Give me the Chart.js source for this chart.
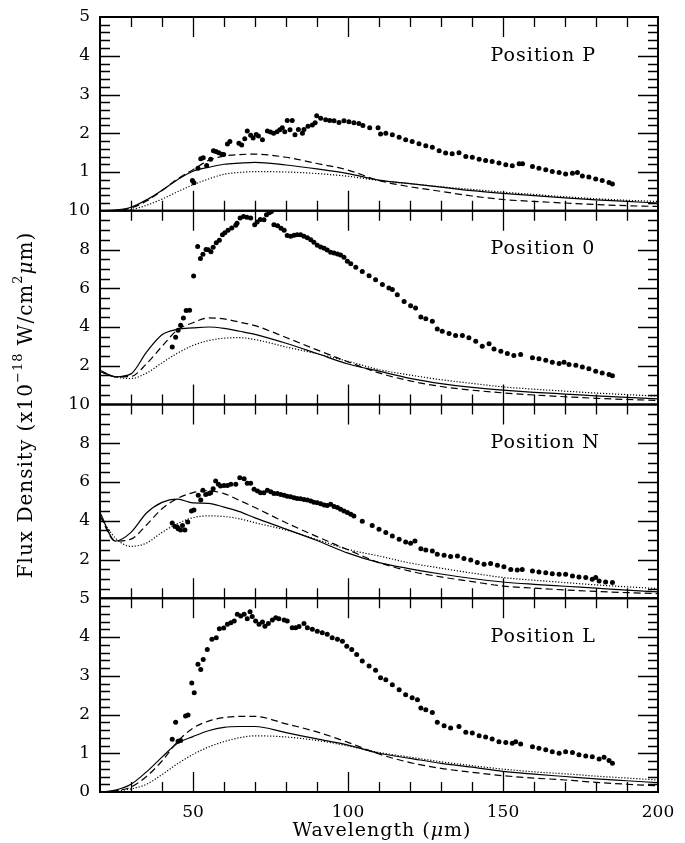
<!DOCTYPE html>
<html>
<head>
<meta charset="utf-8">
<script src="https://cdn.jsdelivr.net/npm/chart.js@4.4.1/dist/chart.umd.min.js"></script>
<style>
  html, body { margin: 0; padding: 0; background: #fff; }
  #wrap { width: 685px; height: 843px; }
</style>
</head>
<body>
<div id="wrap"><canvas id="fluxChart"></canvas></div>
<script>
// wavelength grid of the model curves (um)
const modelWave = [20, 25, 30, 35, 40, 45, 50, 55, 60, 65, 70, 80, 90, 100, 110, 120, 130, 140, 150, 160, 170, 180, 190, 200];

// --- Position P ---
const pSolid  = [0.00, 0.02, 0.09, 0.28, 0.53, 0.80, 1.02, 1.12, 1.20, 1.23, 1.25, 1.18, 1.08, 0.96, 0.79, 0.70, 0.61, 0.52, 0.45, 0.39, 0.33, 0.28, 0.24, 0.20];
const pDashed = [0.00, 0.01, 0.07, 0.25, 0.52, 0.82, 1.06, 1.30, 1.41, 1.45, 1.46, 1.38, 1.22, 1.05, 0.78, 0.62, 0.50, 0.38, 0.29, 0.24, 0.20, 0.16, 0.13, 0.11];
const pDotted = [0.00, 0.00, 0.03, 0.14, 0.30, 0.49, 0.67, 0.82, 0.94, 0.99, 1.01, 1.00, 0.96, 0.89, 0.78, 0.70, 0.62, 0.55, 0.48, 0.42, 0.36, 0.31, 0.27, 0.24];
const pObsX = [49.8, 50.3, 51.6, 52.5, 53.3, 54.4, 55.7, 56.6, 57.4, 58.3, 59.3, 59.9, 61.1, 61.9, 64.8, 65.7, 66.7, 67.5, 68.6, 69.4,
  70.4, 71.1, 72.4, 74.0, 75.0, 76.0, 77.1, 78.0, 78.8, 79.6, 80.4, 81.3, 82.0, 82.9, 84.0, 85.3, 85.8, 87.1, 88.5, 89.4,
  89.9, 91.2, 92.8, 94.1, 95.5, 97.1, 98.7, 100.3, 101.9, 103.5, 104.8, 107.0, 109.7, 110.5, 112.2, 114.3, 116.5, 118.6, 120.7, 122.9,
  125.1, 127.2, 129.4, 131.5, 133.6, 135.8, 138.0, 140.1, 142.3, 144.4, 146.5, 148.7, 150.9, 153.0, 155.2, 156.3,
  159.5, 161.6, 163.8, 165.9, 168.1, 170.2, 172.4, 174.0, 175.6, 177.7, 179.9, 182.0, 184.2, 185.3];
const pObsY = [0.78, 0.72, 1.10, 1.34, 1.37, 1.17, 1.33, 1.55, 1.53, 1.50, 1.46, 1.45, 1.72, 1.79, 1.74, 1.70, 1.86, 2.06, 1.95, 1.88,
  1.97, 1.93, 1.83, 2.06, 2.03, 2.00, 2.04, 2.09, 2.14, 2.04, 2.33, 2.09, 2.33, 1.96, 2.10, 2.00, 2.10, 2.18, 2.21, 2.27,
  2.45, 2.39, 2.35, 2.33, 2.32, 2.28, 2.32, 2.30, 2.27, 2.25, 2.20, 2.14, 2.14, 1.98, 2.00, 1.96, 1.90, 1.83, 1.79, 1.73,
  1.68, 1.64, 1.55, 1.49, 1.47, 1.50, 1.40, 1.38, 1.33, 1.30, 1.27, 1.23, 1.19, 1.16, 1.21, 1.21,
  1.14, 1.10, 1.06, 1.01, 0.99, 0.95, 0.97, 0.99, 0.90, 0.87, 0.82, 0.78, 0.73, 0.69];

// --- Position 0 ---
const oSolid  = [1.77, 1.43, 1.58, 2.70, 3.60, 3.88, 3.95, 4.00, 3.93, 3.78, 3.62, 3.16, 2.63, 2.09, 1.72, 1.35, 1.08, 0.88, 0.74, 0.63, 0.54, 0.45, 0.37, 0.29];
const oDashed = [1.70, 1.43, 1.45, 2.10, 3.00, 3.85, 4.22, 4.47, 4.42, 4.25, 4.07, 3.46, 2.82, 2.20, 1.63, 1.22, 0.93, 0.74, 0.60, 0.49, 0.40, 0.32, 0.26, 0.21];
const oDotted = [1.72, 1.43, 1.34, 1.62, 2.15, 2.65, 3.05, 3.30, 3.42, 3.45, 3.35, 2.97, 2.62, 2.23, 1.80, 1.52, 1.28, 1.09, 0.91, 0.79, 0.69, 0.59, 0.51, 0.43];
const oObsX = [43.3, 44.4, 45.2, 46.0, 46.9, 47.8, 48.9, 50.2, 51.5, 52.4, 53.2, 54.2, 54.9, 55.8, 56.5, 57.5, 58.5, 59.5, 60.3, 61.3,
  62.5, 63.8, 64.2, 65.2, 66.3, 67.4, 68.6, 69.9, 70.7, 71.7, 72.9, 73.7, 74.6, 75.3, 76.1, 77.3, 78.4, 79.4, 80.4, 81.5,
  82.6, 83.6, 84.7, 85.8, 86.9, 88.0, 89.0, 90.1, 91.2, 92.3, 93.3, 94.4, 95.5, 96.6, 97.6, 98.7, 99.8, 100.9, 102.5, 104.6,
  106.8, 108.9, 111.1, 113.2, 114.3, 115.9, 118.1, 120.2, 121.8, 123.5, 125.1, 127.2, 128.8, 130.4, 132.6, 134.7, 136.9, 139.0, 141.2, 143.3,
  145.5, 147.1, 149.3, 151.4, 153.5, 155.7, 159.5, 161.6, 163.8, 165.9, 168.1, 169.7, 171.3, 173.5, 175.6, 177.7, 179.9, 182.0, 184.2, 185.3];
const oObsY = [2.97, 3.47, 3.83, 4.09, 4.47, 4.85, 4.86, 6.63, 8.16, 7.53, 7.75, 8.00, 7.99, 7.89, 8.11, 8.35, 8.48, 8.76, 8.86, 8.99,
  9.11, 9.25, 9.36, 9.62, 9.70, 9.66, 9.63, 9.28, 9.42, 9.55, 9.54, 9.80, 9.90, 9.96, 9.28, 9.22, 9.10, 9.00, 8.72, 8.68,
  8.73, 8.76, 8.76, 8.68, 8.61, 8.50, 8.38, 8.22, 8.13, 8.06, 7.97, 7.86, 7.82, 7.77, 7.71, 7.60, 7.39, 7.27, 7.09, 6.87,
  6.65, 6.44, 6.19, 6.01, 5.93, 5.67, 5.32, 5.10, 4.98, 4.52, 4.42, 4.30, 3.90, 3.78, 3.66, 3.56, 3.56, 3.44, 3.26, 3.01,
  3.14, 2.87, 2.75, 2.63, 2.53, 2.58, 2.41, 2.36, 2.28, 2.18, 2.11, 2.18, 2.06, 2.03, 1.94, 1.84, 1.72, 1.63, 1.55, 1.49];

// --- Position N ---
const nSolid  = [4.42, 2.95, 3.40, 4.40, 4.95, 5.12, 4.92, 4.90, 4.70, 4.47, 4.15, 3.57, 2.98, 2.33, 1.84, 1.52, 1.25, 1.02, 0.84, 0.72, 0.62, 0.52, 0.42, 0.33];
const nDashed = [4.25, 2.95, 3.05, 3.78, 4.62, 5.15, 5.45, 5.55, 5.40, 5.05, 4.68, 3.90, 3.18, 2.50, 1.84, 1.40, 1.10, 0.86, 0.63, 0.52, 0.43, 0.35, 0.29, 0.24];
const nDotted = [4.20, 3.10, 2.68, 2.85, 3.40, 3.85, 4.16, 4.25, 4.22, 4.10, 3.90, 3.52, 3.03, 2.52, 2.18, 1.82, 1.55, 1.30, 1.07, 0.93, 0.81, 0.69, 0.59, 0.50];
const nObsX = [43.3, 44.2, 44.9, 45.2, 46.0, 46.6, 47.4, 48.3, 49.5, 50.3, 51.7, 52.5, 53.2, 54.1, 55.2, 55.7, 56.5, 57.3, 58.2, 58.9,
  60.0, 61.1, 62.2, 63.8, 65.1, 66.5, 67.5, 68.6, 69.7, 70.8, 71.8, 72.9, 74.0, 75.1, 76.1, 77.2, 78.3, 79.4, 80.4, 81.5,
  82.6, 83.6, 84.7, 85.8, 86.9, 88.0, 89.0, 90.1, 91.2, 92.3, 93.3, 94.4, 95.5, 96.6, 97.6, 98.7, 99.8, 100.9, 101.9, 104.6,
  107.8, 110.0, 112.2, 114.3, 116.5, 118.6, 120.2, 121.6, 123.5, 125.1, 127.2, 128.8, 131.0, 133.1, 135.3, 137.4, 139.6, 141.7, 143.9, 146.0,
  148.2, 150.3, 152.5, 154.6, 156.2, 159.5, 161.6, 163.8, 165.9, 168.1, 170.2, 172.4, 174.5, 176.7, 178.8, 179.9, 181.0, 183.1, 185.3];
const nObsY = [3.88, 3.70, 3.68, 3.59, 3.52, 3.76, 3.52, 3.93, 4.50, 4.55, 5.31, 5.07, 5.58, 5.36, 5.41, 5.45, 5.65, 6.05, 5.88, 5.79,
  5.82, 5.82, 5.88, 5.88, 6.22, 6.17, 5.93, 5.93, 5.62, 5.53, 5.45, 5.45, 5.58, 5.50, 5.41, 5.41, 5.36, 5.31, 5.27, 5.24,
  5.19, 5.15, 5.14, 5.10, 5.07, 5.02, 4.96, 4.93, 4.88, 4.81, 4.79, 4.85, 4.73, 4.68, 4.59, 4.50, 4.42, 4.33, 4.24, 3.98,
  3.76, 3.56, 3.39, 3.21, 3.04, 2.90, 2.84, 2.95, 2.56, 2.49, 2.44, 2.27, 2.22, 2.15, 2.18, 2.05, 1.97, 1.84, 1.75, 1.80,
  1.70, 1.63, 1.49, 1.46, 1.49, 1.41, 1.36, 1.32, 1.27, 1.24, 1.24, 1.15, 1.10, 1.07, 0.98, 1.07, 0.89, 0.84, 0.81];

// --- Position L ---
const lSolid  = [0.00, 0.05, 0.20, 0.52, 0.90, 1.26, 1.43, 1.58, 1.67, 1.69, 1.69, 1.53, 1.37, 1.21, 1.00, 0.87, 0.74, 0.64, 0.53, 0.46, 0.40, 0.34, 0.29, 0.24];
const lDashed = [0.00, 0.03, 0.13, 0.40, 0.80, 1.30, 1.65, 1.83, 1.92, 1.95, 1.95, 1.76, 1.55, 1.28, 0.98, 0.76, 0.61, 0.51, 0.42, 0.36, 0.31, 0.25, 0.20, 0.16];
const lDotted = [0.00, 0.02, 0.08, 0.20, 0.45, 0.73, 0.97, 1.16, 1.30, 1.40, 1.45, 1.42, 1.33, 1.19, 1.02, 0.90, 0.78, 0.68, 0.59, 0.52, 0.47, 0.41, 0.36, 0.31];
const lObsX = [43.3, 44.4, 45.2, 46.0, 47.6, 48.4, 49.6, 50.4, 51.6, 52.5, 53.3, 54.6, 56.1, 57.5, 58.5, 59.9, 61.1, 62.2, 63.3, 64.3,
  65.4, 66.5, 67.5, 68.4, 69.1, 70.2, 71.3, 72.4, 73.2, 74.3, 75.6, 76.7, 77.7, 79.4, 80.4, 82.0, 83.1, 84.2, 85.8, 86.9,
  88.5, 90.1, 91.7, 93.3, 94.9, 96.6, 98.2, 99.6, 101.2, 102.8, 104.6, 106.8, 108.9, 110.5, 112.2, 114.3, 116.5, 118.6, 120.7, 122.4,
  123.5, 125.1, 127.2, 128.8, 131.0, 133.1, 135.8, 138.0, 140.1, 142.3, 144.4, 146.5, 148.7, 150.9, 153.0, 154.1, 155.7,
  159.5, 161.6, 163.8, 165.9, 168.1, 170.2, 172.4, 174.5, 176.7, 178.8, 181.0, 182.6, 184.2, 185.3];
const lObsY = [1.36, 1.80, 1.31, 1.33, 1.96, 1.99, 2.81, 2.56, 3.30, 3.16, 3.42, 3.68, 3.94, 3.98, 4.21, 4.23, 4.33, 4.37, 4.41, 4.59,
  4.54, 4.59, 4.47, 4.65, 4.53, 4.41, 4.33, 4.39, 4.28, 4.35, 4.44, 4.50, 4.47, 4.44, 4.41, 4.24, 4.24, 4.27, 4.35, 4.24,
  4.20, 4.15, 4.11, 4.07, 3.98, 3.94, 3.89, 3.76, 3.68, 3.55, 3.38, 3.25, 3.14, 2.95, 2.90, 2.77, 2.64, 2.51, 2.43, 2.38,
  2.17, 2.12, 2.05, 1.80, 1.71, 1.65, 1.69, 1.54, 1.52, 1.45, 1.42, 1.37, 1.30, 1.28, 1.26, 1.30, 1.24,
  1.17, 1.13, 1.09, 1.04, 1.00, 1.04, 1.02, 0.96, 0.93, 0.91, 0.85, 0.90, 0.81, 0.74];

const xTickValues = [50, 100, 150, 200];

const FONT = '"DejaVu Serif", serif';

const pts = (xs, ys) => xs.map((x, i) => ({ x: x, y: ys[i] }));

// panels, top to bottom
const panels = [
  { id: 'yP', max: 5, major: 1, minor: 0.2, label: 'Position P', labelY: 4, obsX: pObsX, obsY: pObsY, solid: pSolid, dashed: pDashed, dotted: pDotted },
  { id: 'yO', max: 10, major: 2, minor: 0.5, label: 'Position 0', labelY: 8, obsX: oObsX, obsY: oObsY, solid: oSolid, dashed: oDashed, dotted: oDotted },
  { id: 'yN', max: 10, major: 2, minor: 0.5, label: 'Position N', labelY: 8, obsX: nObsX, obsY: nObsY, solid: nSolid, dashed: nDashed, dotted: nDotted },
  { id: 'yL', max: 5, major: 1, minor: 0.2, label: 'Position L', labelY: 4, obsX: lObsX, obsY: lObsY, solid: lSolid, dashed: lDashed, dotted: lDotted, showZero: true }
];

const datasets = [];
const scales = {
  x: {
    type: 'linear', min: 20, max: 200,
    grid: { display: false, drawTicks: false }, border: { display: false },
    ticks: {
      stepSize: 10, autoSkip: false, maxRotation: 0, padding: 10,
      color: '#000', font: { family: FONT, size: 17 },
      callback: (v) => xTickValues.includes(v) ? String(v) : ''
    },
    afterFit: (s) => { s.height = 51; }
  }
};

// stacked y axes: the last one defined ends up on top, so go bottom-up
panels.slice().reverse().forEach((p) => {
  scales[p.id] = {
    type: 'linear', position: 'left', stack: 'flux', stackWeight: 1,
    min: 0, max: p.max,
    grid: { display: false, drawTicks: false }, border: { display: false },
    ticks: {
      stepSize: p.major, autoSkip: false, padding: 10,
      color: '#000', font: { family: FONT, size: 17 },
      callback: (v) => (v === 0 && !p.showZero) ? '' : String(v)
    },
    afterFit: (s) => { s.width = 100; s.paddingTop = 0; s.paddingBottom = 0; }
  };
});

panels.forEach((p) => {
  const line = (data, dash) => ({
    data: pts(modelWave, data), yAxisID: p.id, xAxisID: 'x',
    showLine: true, pointRadius: 0, borderColor: '#000', borderWidth: 1.2,
    borderDash: dash, cubicInterpolationMode: 'monotone', fill: false
  });
  datasets.push({
    data: pts(p.obsX, p.obsY), yAxisID: p.id, xAxisID: 'x',
    showLine: false, pointRadius: 2.5, pointBorderWidth: 0,
    pointBackgroundColor: '#000', pointBorderColor: '#000'
  });
  datasets.push(line(p.solid, []));
  datasets.push(line(p.dashed, [7, 4]));
  datasets.push(line(p.dotted, [1.2, 1.8]));
});

// frames, inward ticks, panel names and axis titles
const framePlugin = {
  id: 'framePlugin',
  afterDatasetsDraw(chart) {
    const ctx = chart.ctx;
    const xs = chart.scales.x;
    const area = chart.chartArea;
    ctx.save();
    ctx.strokeStyle = '#000';
    ctx.fillStyle = '#000';
    ctx.lineWidth = 1.3;
    panels.forEach((p) => {
      const ys = chart.scales[p.id];
      const top = ys.top, bot = ys.bottom;
      ctx.beginPath();
      for (let v = 30; v < 200; v += 10) {
        const px = Math.round(xs.getPixelForValue(v)) + 0.5;
        const len = v % 50 === 0 ? 20 : 10;
        ctx.moveTo(px, top); ctx.lineTo(px, top + len);
        ctx.moveTo(px, bot); ctx.lineTo(px, bot - len);
      }
      const n = Math.round(p.max / p.minor);
      for (let i = 1; i < n; i++) {
        const v = i * p.minor;
        const r = v / p.major;
        const len = Math.abs(r - Math.round(r)) < 1e-6 ? 20 : 10;
        const py = Math.round(ys.getPixelForValue(v)) + 0.5;
        ctx.moveTo(area.left, py); ctx.lineTo(area.left + len, py);
        ctx.moveTo(area.right, py); ctx.lineTo(area.right - len, py);
      }
      ctx.stroke();
      ctx.font = '19px ' + FONT;
      ctx.letterSpacing = '1px';
      ctx.textBaseline = 'middle';
      ctx.textAlign = 'left';
      ctx.fillText(p.label, xs.getPixelForValue(146), ys.getPixelForValue(p.labelY));
    });
    ctx.lineWidth = 2;
    panels.forEach((p) => {
      const ys = chart.scales[p.id];
      ctx.strokeRect(area.left, ys.top, area.right - area.left, ys.bottom - ys.top);
    });

    // text runs with superscripts
    const drawRun = (parts, cx, cy) => {
      let total = 0;
      parts.forEach((t) => { ctx.font = t.f; total += ctx.measureText(t.s).width; });
      let x = cx - total / 2;
      parts.forEach((t) => {
        ctx.font = t.f;
        ctx.fillText(t.s, x, cy + (t.dy || 0));
        x += ctx.measureText(t.s).width;
      });
    };
    ctx.textAlign = 'left';
    ctx.textBaseline = 'middle';
    ctx.letterSpacing = '1px';
    drawRun([
      { s: 'Wavelength (', f: '19px ' + FONT }, { s: '\u03bc', f: 'italic 19px ' + FONT }, { s: 'm)', f: '19px ' + FONT }
    ], (area.left + area.right) / 2 + 3, 831);

    ctx.save();
    ctx.translate(27, 405);
    ctx.rotate(-Math.PI / 2);
    const big = '20px ' + FONT, ital = 'italic 20px ' + FONT, small = '13px ' + FONT;
    drawRun([
      { s: 'Flux Density (x10', f: big },
      { s: '\u221218', f: small, dy: -8 },
      { s: ' W/cm', f: big },
      { s: '2', f: small, dy: -8 },
      { s: '\u03bc', f: ital },
      { s: 'm)', f: big }
    ], 0, 0);
    ctx.restore();
    ctx.restore();
  }
};

new Chart(document.getElementById('fluxChart'), {
  type: 'scatter',
  data: { datasets: datasets },
  options: {
    responsive: true,
    maintainAspectRatio: false,
    animation: false,
    layout: { padding: { top: 17, right: 27, left: 0, bottom: 0 } },
    plugins: { legend: { display: false }, tooltip: { enabled: false } },
    scales: scales
  },
  plugins: [framePlugin]
});
</script>
</body>
</html>
